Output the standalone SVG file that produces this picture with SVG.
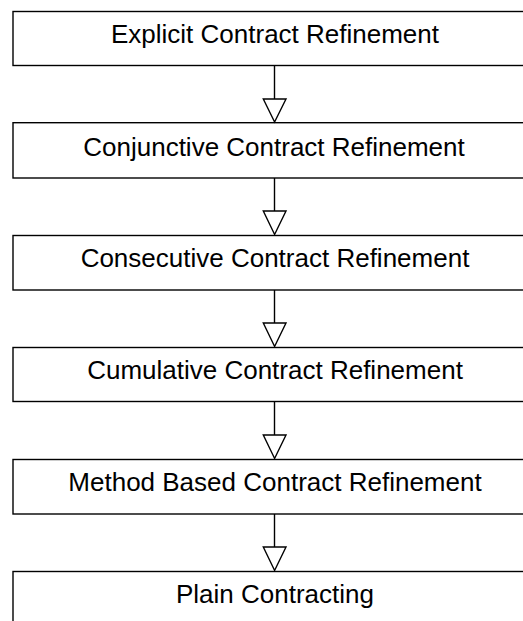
<svg xmlns="http://www.w3.org/2000/svg" width="523" height="621" viewBox="0 0 523 621">
  <style>
    .box { fill: #ffffff; stroke: #000000; stroke-width: 1.4; }
    .label { font-family: "Liberation Sans", Arial, sans-serif; font-size: 26px; fill: #000000; text-anchor: middle; }
    .link { stroke: #000000; stroke-width: 1.4; fill: none; }
    .head { fill: #ffffff; stroke: #000000; stroke-width: 1.4; stroke-linejoin: miter; }
  </style>
  <rect width="523" height="621" fill="#ffffff"/>

  <g id="explicit">
    <rect class="box" x="13" y="11.5" width="523" height="54"/>
    <text class="label" x="275" y="43">Explicit Contract Refinement</text>
  </g>
  <g id="conjunctive">
    <rect class="box" x="13" y="122.7" width="523" height="55.3"/>
    <text class="label" x="274" y="155.5">Conjunctive Contract Refinement</text>
  </g>
  <g id="consecutive">
    <rect class="box" x="13" y="235.5" width="523" height="54.5"/>
    <text class="label" x="275" y="267">Consecutive Contract Refinement</text>
  </g>
  <g id="cumulative">
    <rect class="box" x="13" y="347.5" width="523" height="54"/>
    <text class="label" x="275" y="379">Cumulative Contract Refinement</text>
  </g>
  <g id="method-based">
    <rect class="box" x="13" y="459.5" width="523" height="54.5"/>
    <text class="label" x="275" y="491">Method Based Contract Refinement</text>
  </g>
  <g id="plain">
    <rect class="box" x="13" y="571.5" width="523" height="70"/>
    <text class="label" x="275" y="603">Plain Contracting</text>
  </g>

  <g id="connectors">
    <line class="link" x1="274.5" y1="65.5" x2="274.5" y2="99"/>
    <polygon class="head" points="263.3,99 286,99 274.6,122"/>
    <line class="link" x1="274.5" y1="178" x2="274.5" y2="211"/>
    <polygon class="head" points="263.3,211 286,211 274.6,234.5"/>
    <line class="link" x1="274.5" y1="290" x2="274.5" y2="323"/>
    <polygon class="head" points="263.3,323 286,323 274.6,346.5"/>
    <line class="link" x1="274.5" y1="401.5" x2="274.5" y2="435"/>
    <polygon class="head" points="263.3,435 286,435 274.6,458.5"/>
    <line class="link" x1="274.5" y1="514" x2="274.5" y2="547"/>
    <polygon class="head" points="263.3,547 286,547 274.6,570.5"/>
  </g>
</svg>
